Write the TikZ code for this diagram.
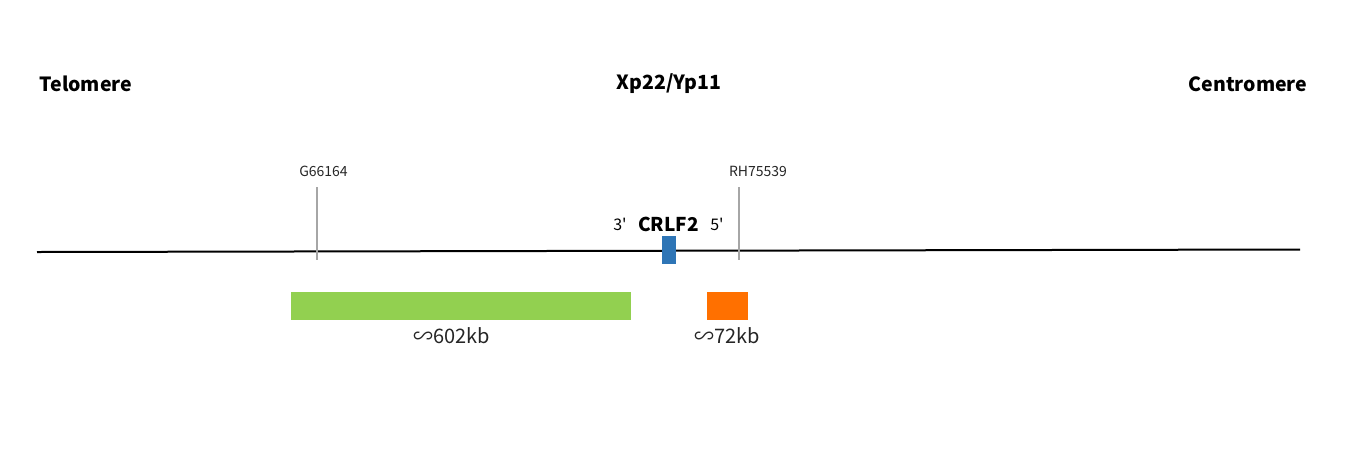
\documentclass[tikz,border=0pt]{standalone}
\usepackage{fontspec}
\setmainfont{Noto Sans CJK SC}
\newfontfamily\primefont{Noto Sans CJK SC}
\begin{document}
\begin{tikzpicture}[x=1pt,y=-1pt,
  title/.style={font=\fontsize{19.5}{22}\selectfont\bfseries, inner sep=0pt},
  marker/.style={font=\fontsize{14}{16}\selectfont, inner sep=0pt, text=black!85},
  prime/.style={font=\primefont\fontsize{16}{18}\selectfont, inner sep=0pt},
  size/.style={font=\fontsize{20}{23}\selectfont, inner sep=0pt, text=black!85},
  tick/.style={draw=black!35, line width=1.5pt}]
\useasboundingbox (0,0) rectangle (1351,451);
% titles
\node[title] (tel) at (86,84) {Telomere};
\node[title] (xp) at (669,84) {Xp22/Yp11};
\node[title] (cen) at (1248,84) {Centromere};
% chromosome line
\coordinate (l0) at (37,252);
\coordinate (l1) at (1300,249.5);
\draw[line width=2pt, black] (l0) -- (l1);
% markers
\node[marker] (g) at (323.5,171) {G66164};
\node[marker] (rh) at (758,171) {RH75539};
\coordinate (gt) at (317,187); \coordinate (gb) at (317,260);
\coordinate (rt) at (739,187); \coordinate (rb) at (739,260);
\draw[tick] (gt) -- (gb);
\draw[tick] (rt) -- (rb);
% gene
\node[draw=none, fill={rgb,255:red,46;green,117;blue,182}, minimum width=14pt, minimum height=28pt, inner sep=0pt] (crlf) at (669,250) {};
\node[font=\fontsize{19}{21}\selectfont\bfseries, inner sep=0pt] (crlft) at (668.5,224) {CRLF2};
\node[prime] (p3) at (620,224) {3'};
\node[prime] (p5) at (717,224) {5'};
% deletions
\node[fill={rgb,255:red,146;green,208;blue,80}, minimum width=340pt, minimum height=28pt, inner sep=0pt] (green) at (461,306) {};
\node[fill={rgb,255:red,255;green,112;blue,0}, minimum width=41pt, minimum height=28pt, inner sep=0pt] (orange) at (727.5,306) {};
\node[size] (s602) at (452,336) {∽602kb};
\node[size] (s72) at (727,336) {∽72kb};
\end{tikzpicture}
\end{document}
